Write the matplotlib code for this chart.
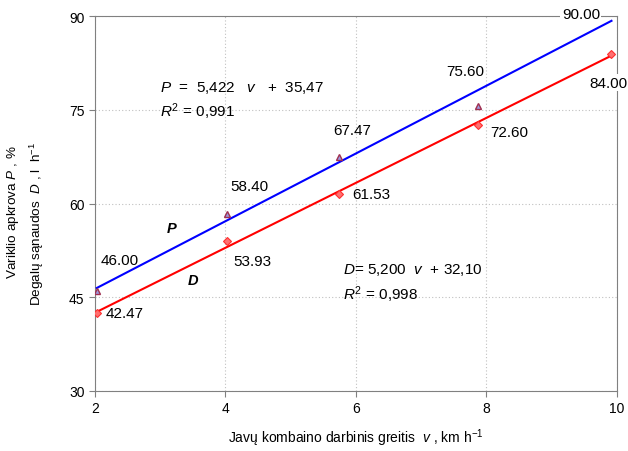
import matplotlib.pyplot as plt
import numpy as np

plt.rcParams["font.family"] = ["Liberation Sans", "DejaVu Sans"]
plt.rcParams["mathtext.fontset"] = "custom"
plt.rcParams["mathtext.rm"] = "Liberation Sans"
plt.rcParams["mathtext.it"] = "Liberation Sans:italic"
plt.rcParams["mathtext.bf"] = "Liberation Sans:bold"

# speed v, km/h
v = [2.03, 4.03, 5.75, 7.87, 9.92]
# engine load P, %
load_p = [46.00, 58.40, 67.47, 75.60, 90.00]
# fuel consumption D, l/h
fuel_d = [42.47, 53.93, 61.53, 72.60, 84.00]
p_labels = ["46.00", "58.40", "67.47", "75.60", "90.00"]
d_labels = ["42.47", "53.93", "61.53", "72.60", "84.00"]

# regression coefficients shown on chart
p_fit = (5.422, 35.47)
d_fit = (5.200, 32.10)

# label offsets in points
p_offs = [(16.6, 22.3), (16, 20), (9, 19), (-9, 25), (-22, 1.5)]
d_offs = [(20, 0), (18, -14), (23, 0), (23, -5), (-2, -21)]

fig = plt.figure(figsize=(6.28, 4.52), dpi=100)
ax = fig.add_axes([0.151, 0.133, 0.831, 0.829])

xx = np.array([v[0], v[-1]])
ax.plot(xx, p_fit[0] * xx + p_fit[1], color="blue", lw=1.5, zorder=3)
ax.plot(xx, d_fit[0] * xx + d_fit[1], color="red", lw=1.5, zorder=3)

# last P marker sits hidden under the top frame in the original
ax.plot(v[:-1], load_p[:-1], ls="none", marker="^", ms=5, mfc="#9a9adf",
        mec="#a03050", mew=1, zorder=4)
ax.plot(v, fuel_d, ls="none", marker="D", ms=4, mfc="#ff7070",
        mec="#ff3030", mew=0.8, zorder=4)

edge = {"90.00", "84.00"}
for x, y, s, o in zip(v, load_p, p_labels, p_offs):
    bb = dict(fc="white", ec="none", pad=1) if s in edge else None
    ax.annotate(s, (x, y), xytext=o, textcoords="offset points",
                ha="center", va="center", fontsize=11, bbox=bb, zorder=5,
                annotation_clip=False)
for x, y, s, o in zip(v, fuel_d, d_labels, d_offs):
    bb = dict(fc="white", ec="none", pad=1) if s in edge else None
    ax.annotate(s, (x, y), xytext=o, textcoords="offset points",
                ha="center", va="center", fontsize=11, bbox=bb, zorder=5,
                annotation_clip=False)

ax.text(3.0, 78.6, r"$\it{P}$  =  5,422   $\it{v}$   +  35,47", fontsize=11,
        va="center")
ax.text(3.0, 74.8, r"$\it{R}^2$ = 0,991", fontsize=11, va="center")
ax.text(5.8, 49.5, r"$\it{D}$= 5,200  $\it{v}$  + 32,10", fontsize=11,
        va="center")
ax.text(5.8, 45.5, r"$\it{R}^2$ = 0,998", fontsize=11, va="center")

ax.text(3.18, 56.1, "P", fontsize=10.5, fontweight="bold", fontstyle="italic",
        ha="center", va="center")
ax.text(3.5, 47.8, "D", fontsize=10.5, fontweight="bold", fontstyle="italic",
        ha="center", va="center")

ax.set_xlim(2, 10)
ax.set_ylim(30, 90)
ax.set_xticks([2, 4, 6, 8, 10])
ax.set_yticks([30, 45, 60, 75, 90])
ax.tick_params(labelsize=10, length=4, color="#808080", direction="out")
ax.grid(True, ls=(0, (1, 2)), color="#c0c0c0", lw=0.8)
ax.set_axisbelow(True)
for side in ["top", "right", "left", "bottom"]:
    ax.spines[side].set_color("#808080")

ax.set_xlabel(r"Javų kombaino darbinis greitis  $\it{v}$ , km h$^{-1}$",
              fontsize=10, labelpad=8)
fig.text(0.021, 1 - 212 / 452, r"Variklio apkrova $\it{P}$ , %",
         rotation=90, ha="center", va="center", fontsize=9.7)
fig.text(0.059, 1 - 224 / 452, r"Degalų sąnaudos  $\it{D}$ , l  h$^{-1}$",
         rotation=90, ha="center", va="center", fontsize=9.7)

fig.savefig("out.png", dpi=100)
